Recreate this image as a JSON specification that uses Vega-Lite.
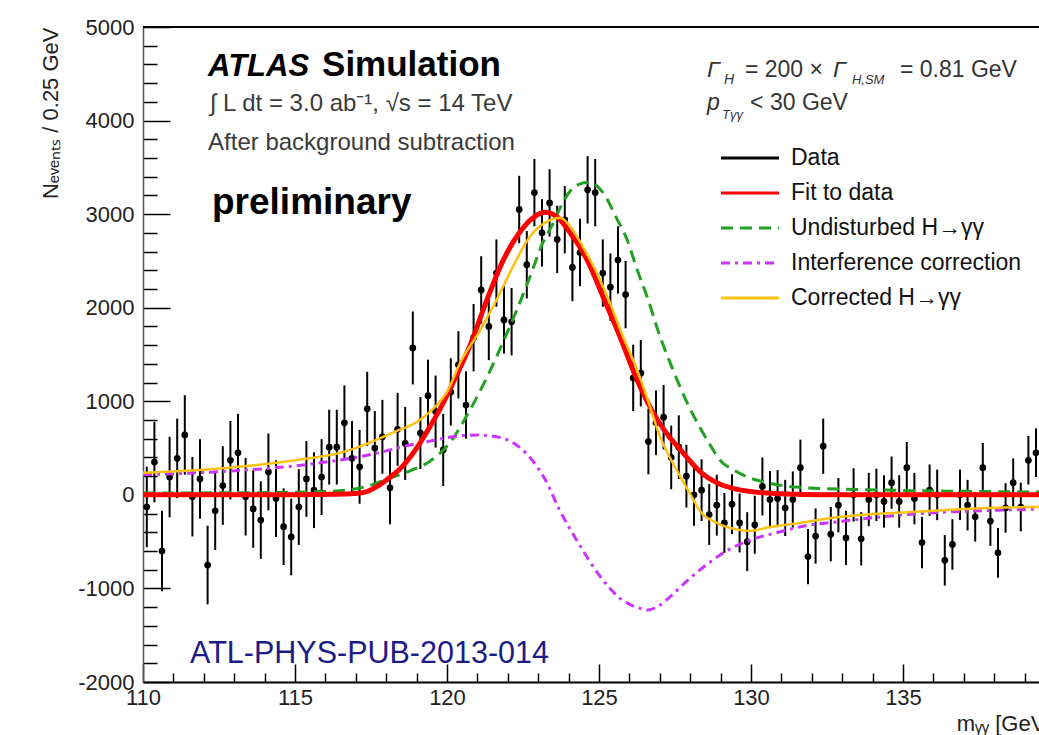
{
  "$schema": "https://vega.github.io/schema/vega-lite/v6.json",
  "width": 896,
  "height": 655,
  "autosize": {"type": "none"},
  "padding": {"left": 143, "top": 27, "right": 0, "bottom": 53},
  "background": "white",
  "datasets": {
    "points": [
      {"m": 110.125, "n": -130, "err": 430}, {"m": 110.375, "n": 350, "err": 430}, {"m": 110.625, "n": -600, "err": 430}, {"m": 110.875, "n": 190, "err": 430},
      {"m": 111.125, "n": 390, "err": 425}, {"m": 111.375, "n": 640, "err": 425}, {"m": 111.625, "n": -20, "err": 425}, {"m": 111.875, "n": 170, "err": 425},
      {"m": 112.125, "n": -750, "err": 420}, {"m": 112.375, "n": -170, "err": 420}, {"m": 112.625, "n": 100, "err": 420}, {"m": 112.875, "n": 370, "err": 420},
      {"m": 113.125, "n": 450, "err": 415}, {"m": 113.375, "n": -20, "err": 415}, {"m": 113.625, "n": -150, "err": 415}, {"m": 113.875, "n": -270, "err": 415},
      {"m": 114.125, "n": 245, "err": 410}, {"m": 114.375, "n": -40, "err": 410}, {"m": 114.625, "n": -340, "err": 410}, {"m": 114.875, "n": -450, "err": 410},
      {"m": 115.125, "n": -130, "err": 405}, {"m": 115.375, "n": 170, "err": 405}, {"m": 115.625, "n": 50, "err": 405}, {"m": 115.875, "n": 190, "err": 405},
      {"m": 116.125, "n": 510, "err": 400}, {"m": 116.375, "n": 510, "err": 400}, {"m": 116.625, "n": 770, "err": 400}, {"m": 116.875, "n": 390, "err": 400},
      {"m": 117.125, "n": 300, "err": 395}, {"m": 117.375, "n": 920, "err": 395}, {"m": 117.625, "n": 500, "err": 395}, {"m": 117.875, "n": 620, "err": 395},
      {"m": 118.125, "n": 75, "err": 390}, {"m": 118.375, "n": 700, "err": 390}, {"m": 118.625, "n": 550, "err": 390}, {"m": 118.875, "n": 1570, "err": 390},
      {"m": 119.125, "n": 660, "err": 385}, {"m": 119.375, "n": 1060, "err": 385}, {"m": 119.625, "n": 890, "err": 385}, {"m": 119.875, "n": 480, "err": 385},
      {"m": 120.125, "n": 1100, "err": 360}, {"m": 120.375, "n": 1390, "err": 360}, {"m": 120.625, "n": 960, "err": 360}, {"m": 120.875, "n": 1680, "err": 360},
      {"m": 121.125, "n": 2190, "err": 360}, {"m": 121.375, "n": 1800, "err": 360}, {"m": 121.625, "n": 2370, "err": 360}, {"m": 121.875, "n": 1870, "err": 360},
      {"m": 122.125, "n": 1850, "err": 360}, {"m": 122.375, "n": 3050, "err": 360}, {"m": 122.625, "n": 2460, "err": 360}, {"m": 122.875, "n": 3230, "err": 360},
      {"m": 123.125, "n": 2800, "err": 360}, {"m": 123.375, "n": 3120, "err": 360}, {"m": 123.625, "n": 2730, "err": 360}, {"m": 123.875, "n": 2940, "err": 360},
      {"m": 124.125, "n": 2430, "err": 360}, {"m": 124.375, "n": 2590, "err": 360}, {"m": 124.625, "n": 3260, "err": 360}, {"m": 124.875, "n": 3230, "err": 360},
      {"m": 125.125, "n": 2370, "err": 360}, {"m": 125.375, "n": 2220, "err": 360}, {"m": 125.625, "n": 2510, "err": 360}, {"m": 125.875, "n": 2140, "err": 360},
      {"m": 126.125, "n": 1250, "err": 355}, {"m": 126.375, "n": 1300, "err": 355}, {"m": 126.625, "n": 570, "err": 350}, {"m": 126.875, "n": 770, "err": 345},
      {"m": 127.125, "n": 830, "err": 345}, {"m": 127.375, "n": 400, "err": 340}, {"m": 127.625, "n": 510, "err": 340}, {"m": 127.875, "n": 200, "err": 335},
      {"m": 128.125, "n": 0, "err": 330}, {"m": 128.375, "n": 50, "err": 330}, {"m": 128.625, "n": -210, "err": 325}, {"m": 128.875, "n": -110, "err": 325},
      {"m": 129.125, "n": -300, "err": 320}, {"m": 129.375, "n": -100, "err": 320}, {"m": 129.625, "n": -300, "err": 315}, {"m": 129.875, "n": -500, "err": 315},
      {"m": 130.125, "n": -320, "err": 310}, {"m": 130.375, "n": 90, "err": 310}, {"m": 130.625, "n": -50, "err": 305}, {"m": 130.875, "n": -40, "err": 305},
      {"m": 131.125, "n": -140, "err": 300}, {"m": 131.375, "n": -50, "err": 300}, {"m": 131.625, "n": 290, "err": 300}, {"m": 131.875, "n": -660, "err": 295},
      {"m": 132.125, "n": -440, "err": 295}, {"m": 132.375, "n": 520, "err": 295}, {"m": 132.625, "n": -420, "err": 290}, {"m": 132.875, "n": -110, "err": 290},
      {"m": 133.125, "n": -460, "err": 290}, {"m": 133.375, "n": 0, "err": 285}, {"m": 133.625, "n": -470, "err": 285}, {"m": 133.875, "n": -50, "err": 285},
      {"m": 134.125, "n": 0, "err": 280}, {"m": 134.375, "n": -70, "err": 280}, {"m": 134.625, "n": 130, "err": 280}, {"m": 134.875, "n": -70, "err": 280},
      {"m": 135.125, "n": 290, "err": 275}, {"m": 135.375, "n": -40, "err": 275}, {"m": 135.625, "n": -510, "err": 275}, {"m": 135.875, "n": 50, "err": 275},
      {"m": 136.125, "n": 0, "err": 270}, {"m": 136.375, "n": -700, "err": 270}, {"m": 136.625, "n": -530, "err": 270}, {"m": 136.875, "n": 0, "err": 270},
      {"m": 137.125, "n": -110, "err": 270}, {"m": 137.375, "n": -235, "err": 265}, {"m": 137.625, "n": 290, "err": 265}, {"m": 137.875, "n": -280, "err": 265},
      {"m": 138.125, "n": -620, "err": 265}, {"m": 138.375, "n": -140, "err": 265}, {"m": 138.625, "n": 130, "err": 260}, {"m": 138.875, "n": -130, "err": 260},
      {"m": 139.125, "n": 370, "err": 260}, {"m": 139.375, "n": 450, "err": 260}
    ],
    "curves": [
      {"series": "Fit to data", "m": 110, "n": 0}, {"series": "Fit to data", "m": 114, "n": 0}, {"series": "Fit to data", "m": 116, "n": 5},
      {"series": "Fit to data", "m": 116.7, "n": 10}, {"series": "Fit to data", "m": 117.24, "n": 25}, {"series": "Fit to data", "m": 117.7, "n": 90},
      {"series": "Fit to data", "m": 118.13, "n": 190}, {"series": "Fit to data", "m": 118.55, "n": 310}, {"series": "Fit to data", "m": 119.0, "n": 500},
      {"series": "Fit to data", "m": 119.44, "n": 730}, {"series": "Fit to data", "m": 119.87, "n": 980}, {"series": "Fit to data", "m": 120.2, "n": 1200},
      {"series": "Fit to data", "m": 120.76, "n": 1600}, {"series": "Fit to data", "m": 121.32, "n": 2090}, {"series": "Fit to data", "m": 121.84, "n": 2500},
      {"series": "Fit to data", "m": 122.4, "n": 2810}, {"series": "Fit to data", "m": 122.83, "n": 2960}, {"series": "Fit to data", "m": 123.22, "n": 3020},
      {"series": "Fit to data", "m": 123.62, "n": 2970}, {"series": "Fit to data", "m": 124.05, "n": 2800}, {"series": "Fit to data", "m": 124.61, "n": 2510},
      {"series": "Fit to data", "m": 125.13, "n": 2120}, {"series": "Fit to data", "m": 125.69, "n": 1690}, {"series": "Fit to data", "m": 126.25, "n": 1230},
      {"series": "Fit to data", "m": 126.78, "n": 880}, {"series": "Fit to data", "m": 127.34, "n": 610}, {"series": "Fit to data", "m": 127.66, "n": 490},
      {"series": "Fit to data", "m": 128.0, "n": 360}, {"series": "Fit to data", "m": 128.32, "n": 250}, {"series": "Fit to data", "m": 128.88, "n": 130},
      {"series": "Fit to data", "m": 129.41, "n": 70}, {"series": "Fit to data", "m": 130.0, "n": 35}, {"series": "Fit to data", "m": 130.53, "n": 20},
      {"series": "Fit to data", "m": 131.6, "n": 5}, {"series": "Fit to data", "m": 133, "n": 0}, {"series": "Fit to data", "m": 140, "n": 0},

      {"series": "Undisturbed H→γγ", "m": 110, "n": 20}, {"series": "Undisturbed H→γγ", "m": 113, "n": 22}, {"series": "Undisturbed H→γγ", "m": 116, "n": 35},
      {"series": "Undisturbed H→γγ", "m": 117.24, "n": 80}, {"series": "Undisturbed H→γγ", "m": 118.13, "n": 180}, {"series": "Undisturbed H→γγ", "m": 118.8, "n": 260},
      {"series": "Undisturbed H→γγ", "m": 119.44, "n": 360}, {"series": "Undisturbed H→γγ", "m": 120.1, "n": 560}, {"series": "Undisturbed H→γγ", "m": 120.76, "n": 910},
      {"series": "Undisturbed H→γγ", "m": 121.32, "n": 1260}, {"series": "Undisturbed H→γγ", "m": 121.84, "n": 1630}, {"series": "Undisturbed H→γγ", "m": 122.3, "n": 1980},
      {"series": "Undisturbed H→γγ", "m": 122.73, "n": 2330}, {"series": "Undisturbed H→γγ", "m": 123.16, "n": 2700}, {"series": "Undisturbed H→γγ", "m": 123.49, "n": 2900},
      {"series": "Undisturbed H→γγ", "m": 123.82, "n": 3130}, {"series": "Undisturbed H→γγ", "m": 124.28, "n": 3310}, {"series": "Undisturbed H→γγ", "m": 124.7, "n": 3340},
      {"series": "Undisturbed H→γγ", "m": 125.13, "n": 3230}, {"series": "Undisturbed H→γγ", "m": 125.59, "n": 2950}, {"series": "Undisturbed H→γγ", "m": 125.92, "n": 2730},
      {"series": "Undisturbed H→γγ", "m": 126.25, "n": 2410}, {"series": "Undisturbed H→γγ", "m": 126.58, "n": 2120}, {"series": "Undisturbed H→γγ", "m": 127.01, "n": 1690},
      {"series": "Undisturbed H→γγ", "m": 127.43, "n": 1340}, {"series": "Undisturbed H→γγ", "m": 127.89, "n": 990}, {"series": "Undisturbed H→γγ", "m": 128.32, "n": 720},
      {"series": "Undisturbed H→γγ", "m": 128.7, "n": 510}, {"series": "Undisturbed H→γγ", "m": 128.98, "n": 370}, {"series": "Undisturbed H→γγ", "m": 129.41, "n": 270},
      {"series": "Undisturbed H→γγ", "m": 129.97, "n": 180}, {"series": "Undisturbed H→γγ", "m": 130.53, "n": 130}, {"series": "Undisturbed H→γγ", "m": 131.6, "n": 80},
      {"series": "Undisturbed H→γγ", "m": 133.8, "n": 55}, {"series": "Undisturbed H→γγ", "m": 140, "n": 30},

      {"series": "Interference correction", "m": 110, "n": 215}, {"series": "Interference correction", "m": 112, "n": 240}, {"series": "Interference correction", "m": 114, "n": 280},
      {"series": "Interference correction", "m": 115, "n": 310}, {"series": "Interference correction", "m": 116, "n": 350}, {"series": "Interference correction", "m": 117, "n": 400},
      {"series": "Interference correction", "m": 118, "n": 470}, {"series": "Interference correction", "m": 118.6, "n": 520}, {"series": "Interference correction", "m": 119.3, "n": 565},
      {"series": "Interference correction", "m": 120.2, "n": 620}, {"series": "Interference correction", "m": 121.0, "n": 640}, {"series": "Interference correction", "m": 121.64, "n": 620},
      {"series": "Interference correction", "m": 122.3, "n": 530}, {"series": "Interference correction", "m": 122.9, "n": 330}, {"series": "Interference correction", "m": 123.22, "n": 170},
      {"series": "Interference correction", "m": 123.7, "n": -160}, {"series": "Interference correction", "m": 124.36, "n": -535}, {"series": "Interference correction", "m": 125.0, "n": -855},
      {"series": "Interference correction", "m": 125.67, "n": -1100}, {"series": "Interference correction", "m": 126.32, "n": -1210}, {"series": "Interference correction", "m": 126.6, "n": -1230},
      {"series": "Interference correction", "m": 126.9, "n": -1200}, {"series": "Interference correction", "m": 127.3, "n": -1100}, {"series": "Interference correction", "m": 127.96, "n": -900},
      {"series": "Interference correction", "m": 128.65, "n": -720}, {"series": "Interference correction", "m": 129.3, "n": -580}, {"series": "Interference correction", "m": 130.0, "n": -480},
      {"series": "Interference correction", "m": 130.9, "n": -400}, {"series": "Interference correction", "m": 131.8, "n": -330}, {"series": "Interference correction", "m": 132.8, "n": -290},
      {"series": "Interference correction", "m": 134.3, "n": -235}, {"series": "Interference correction", "m": 135.8, "n": -195}, {"series": "Interference correction", "m": 137.5, "n": -170},
      {"series": "Interference correction", "m": 140, "n": -150},

      {"series": "Corrected H→γγ", "m": 110, "n": 235}, {"series": "Corrected H→γγ", "m": 112.8, "n": 290}, {"series": "Corrected H→γγ", "m": 115.0, "n": 370},
      {"series": "Corrected H→γγ", "m": 116.6, "n": 460}, {"series": "Corrected H→γγ", "m": 118.25, "n": 670}, {"series": "Corrected H→γγ", "m": 119.1, "n": 800},
      {"series": "Corrected H→γγ", "m": 119.77, "n": 1000}, {"series": "Corrected H→γγ", "m": 120.0, "n": 1100}, {"series": "Corrected H→γγ", "m": 120.43, "n": 1410},
      {"series": "Corrected H→γγ", "m": 121.09, "n": 1760}, {"series": "Corrected H→γγ", "m": 121.64, "n": 2090}, {"series": "Corrected H→γγ", "m": 122.17, "n": 2440},
      {"series": "Corrected H→γγ", "m": 122.73, "n": 2760}, {"series": "Corrected H→γγ", "m": 123.29, "n": 2920}, {"series": "Corrected H→γγ", "m": 123.72, "n": 2960},
      {"series": "Corrected H→γγ", "m": 124.05, "n": 2870}, {"series": "Corrected H→γγ", "m": 124.47, "n": 2650}, {"series": "Corrected H→γγ", "m": 124.93, "n": 2370},
      {"series": "Corrected H→γγ", "m": 125.36, "n": 2050}, {"series": "Corrected H→γγ", "m": 125.79, "n": 1690}, {"series": "Corrected H→γγ", "m": 126.25, "n": 1340},
      {"series": "Corrected H→γγ", "m": 126.68, "n": 940}, {"series": "Corrected H→γγ", "m": 127.01, "n": 620}, {"series": "Corrected H→γγ", "m": 127.24, "n": 460},
      {"series": "Corrected H→γγ", "m": 127.7, "n": 180}, {"series": "Corrected H→γγ", "m": 128.0, "n": 10}, {"series": "Corrected H→γγ", "m": 128.32, "n": -170},
      {"series": "Corrected H→γγ", "m": 128.88, "n": -300}, {"series": "Corrected H→γγ", "m": 129.41, "n": -360}, {"series": "Corrected H→γγ", "m": 129.97, "n": -385},
      {"series": "Corrected H→γγ", "m": 130.53, "n": -350}, {"series": "Corrected H→γγ", "m": 131.6, "n": -300}, {"series": "Corrected H→γγ", "m": 132.7, "n": -245},
      {"series": "Corrected H→γγ", "m": 133.8, "n": -210}, {"series": "Corrected H→γγ", "m": 134.9, "n": -190}, {"series": "Corrected H→γγ", "m": 136.0, "n": -170},
      {"series": "Corrected H→γγ", "m": 137.1, "n": -150}, {"series": "Corrected H→γγ", "m": 140, "n": -125}
    ],
    "notes": [
      {"note": "ATLAS", "m": 112.14, "n": 4481},
      {"note": "Simulation", "m": 115.89, "n": 4481},
      {"note": "∫ L dt = 3.0 ab⁻¹,   √s = 14 TeV", "m": 112.2, "n": 4107},
      {"note": "After background subtraction", "m": 112.14, "n": 3690},
      {"note": "preliminary", "m": 112.27, "n": 3005},
      {"note": "ATL-PHYS-PUB-2013-014", "m": 111.55, "n": -1797},
      {"note": "Γ", "m": 128.55, "n": 4470},
      {"note": "H", "m": 129.11, "n": 4396},
      {"note": "= 200 ×", "m": 129.8, "n": 4470},
      {"note": "Γ", "m": 132.7, "n": 4470},
      {"note": "H,SM", "m": 133.32, "n": 4396},
      {"note": "= 0.81 GeV", "m": 134.9, "n": 4470},
      {"note": "p", "m": 128.55, "n": 4118},
      {"note": "Tγγ", "m": 129.05, "n": 4021},
      {"note": "< 30 GeV", "m": 129.97, "n": 4118}
    ],
    "frame": [{"m": 110, "n": 5000}, {"m": 139.474, "n": 5000}]
  },
  "encoding": {
    "x": {
      "field": "m", "type": "quantitative", "title": "mᵧᵧ [GeV]",
      "scale": {"domain": [110, 139.474], "nice": false, "zero": false},
      "axis": {
        "values": [110,111,112,113,114,115,116,117,118,119,120,121,122,123,124,125,126,127,128,129,130,131,132,133,134,135,136,137,138,139,140],
        "labelExpr": "datum.value % 5 === 0 ? '' + datum.value : ''",
        "tickSize": {"condition": {"test": "datum.value % 5 === 0", "value": -18}, "value": -9},
        "tickColor": "black", "tickWidth": 1.5,
        "domainColor": "black", "domainWidth": 2,
        "labelPadding": 23, "labelFontSize": 22, "labelFont": "Liberation Sans", "labelColor": "#222",
        "labelFlush": false, "labelOverlap": false, "grid": false,
        "titleX": 908, "titleY": 48, "titleAlign": "right", "titleAnchor": "end", "titleBaseline": "alphabetic",
        "titleFontSize": 22, "titleFontWeight": "normal", "titleFont": "Liberation Sans", "titleColor": "#222"
      }
    },
    "y": {
      "field": "n", "type": "quantitative", "title": "Nₑᵥₑₙₜₛ / 0.25 GeV",
      "scale": {"domain": [-2000, 5000], "nice": false, "zero": false},
      "axis": {
        "values": [-2000,-1800,-1600,-1400,-1200,-1000,-800,-600,-400,-200,0,200,400,600,800,1000,1200,1400,1600,1800,2000,2200,2400,2600,2800,3000,3200,3400,3600,3800,4000,4200,4400,4600,4800,5000],
        "labelExpr": "datum.value % 1000 === 0 ? '' + datum.value : ''",
        "tickSize": {"condition": {"test": "datum.value % 1000 === 0", "value": -27}, "value": -14},
        "tickColor": "black", "tickWidth": 1.5,
        "domainColor": "#555", "domainWidth": 1.5,
        "labelPadding": 36, "labelFontSize": 22, "labelFont": "Liberation Sans", "labelColor": "#222",
        "labelOverlap": false, "grid": false,
        "titleX": -93, "titleY": 0, "titleAngle": 270, "titleAlign": "right", "titleAnchor": "end", "titleBaseline": "middle",
        "titleFontSize": 22, "titleFontWeight": "normal", "titleFont": "Liberation Sans", "titleColor": "#222"
      }
    }
  },
  "layer": [
    {
      "data": {"name": "points"},
      "mark": {"type": "errorbar", "color": "black", "thickness": 2, "clip": true},
      "encoding": {"yError": {"field": "err"}}
    },
    {
      "data": {"name": "points"},
      "mark": {"type": "point", "filled": true, "size": 45, "color": "black", "opacity": 1, "clip": true}
    },
    {
      "data": {"name": "curves"},
      "transform": [{"filter": "datum.series === 'Undisturbed H→γγ'"}],
      "mark": {"type": "line", "clip": true, "interpolate": "monotone", "strokeWidth": 3},
      "encoding": {
        "color": {"field": "series", "type": "nominal", "legend": {"title": null},
          "scale": {"domain": ["Data", "Fit to data", "Undisturbed H→γγ", "Interference correction", "Corrected H→γγ"], "range": ["#000000", "#ff0000", "#22a022", "#cc33ff", "#ffc010"]}},
        "strokeDash": {"field": "series", "type": "nominal", "legend": {"title": null},
          "scale": {"domain": ["Data", "Fit to data", "Undisturbed H→γγ", "Interference correction", "Corrected H→γγ"], "range": [[1, 0], [1, 0], [12, 7], [9, 5, 3, 5], [1, 0]]}}
      }
    },
    {
      "data": {"name": "curves"},
      "transform": [{"filter": "datum.series === 'Interference correction'"}],
      "mark": {"type": "line", "clip": true, "interpolate": "monotone", "strokeWidth": 3},
      "encoding": {
        "color": {"field": "series", "type": "nominal", "legend": {"title": null}},
        "strokeDash": {"field": "series", "type": "nominal", "legend": {"title": null}}
      }
    },
    {
      "data": {"name": "curves"},
      "transform": [{"filter": "datum.series === 'Fit to data'"}],
      "mark": {"type": "line", "clip": true, "interpolate": "monotone", "strokeWidth": 5},
      "encoding": {
        "color": {"field": "series", "type": "nominal", "legend": {"title": null}},
        "strokeDash": {"field": "series", "type": "nominal", "legend": {"title": null}}
      }
    },
    {
      "data": {"name": "curves"},
      "transform": [{"filter": "datum.series === 'Corrected H→γγ'"}],
      "mark": {"type": "line", "clip": true, "interpolate": "monotone", "strokeWidth": 2.5},
      "encoding": {
        "color": {"field": "series", "type": "nominal", "legend": {"title": null}},
        "strokeDash": {"field": "series", "type": "nominal", "legend": {"title": null}}
      }
    },
    {
      "data": {"name": "frame"},
      "mark": {"type": "line", "color": "black", "strokeWidth": 2}
    },
    {
      "data": {"name": "notes"},
      "transform": [{"filter": "datum.note === 'ATLAS'"}],
      "mark": {"type": "text", "font": "Liberation Sans", "fontSize": 31, "fontWeight": "bold", "fontStyle": "italic", "align": "left", "baseline": "alphabetic", "color": "black"},
      "encoding": {"text": {"field": "note"}}
    },
    {
      "data": {"name": "notes"},
      "transform": [{"filter": "datum.note === 'Simulation'"}],
      "mark": {"type": "text", "font": "Liberation Sans", "fontSize": 35, "fontWeight": "bold", "align": "left", "baseline": "alphabetic", "color": "black"},
      "encoding": {"text": {"field": "note"}}
    },
    {
      "data": {"name": "notes"},
      "transform": [{"filter": "datum.note === 'preliminary'"}],
      "mark": {"type": "text", "font": "Liberation Sans", "fontSize": 37, "fontWeight": "bold", "align": "left", "baseline": "alphabetic", "color": "black"},
      "encoding": {"text": {"field": "note"}}
    },
    {
      "data": {"name": "notes"},
      "transform": [{"filter": "indexof(datum.note, 'dt') >= 0 || indexof(datum.note, 'After') === 0"}],
      "mark": {"type": "text", "font": "Liberation Sans", "fontSize": 24, "align": "left", "baseline": "alphabetic", "color": "#3a3a3a"},
      "encoding": {"text": {"field": "note"}}
    },
    {
      "data": {"name": "notes"},
      "transform": [{"filter": "datum.note === 'ATL-PHYS-PUB-2013-014'"}],
      "mark": {"type": "text", "font": "Liberation Sans", "fontSize": 30.5, "align": "left", "baseline": "alphabetic", "color": "#1c1c86"},
      "encoding": {"text": {"field": "note"}}
    },
    {
      "data": {"name": "notes"},
      "transform": [{"filter": "datum.note === 'Γ' || datum.note === 'p'"}],
      "mark": {"type": "text", "font": "Liberation Sans", "fontSize": 23, "fontStyle": "italic", "align": "left", "baseline": "alphabetic", "color": "#333"},
      "encoding": {"text": {"field": "note"}}
    },
    {
      "data": {"name": "notes"},
      "transform": [{"filter": "datum.note === '= 200 ×' || datum.note === '= 0.81 GeV' || datum.note === '< 30 GeV'"}],
      "mark": {"type": "text", "font": "Liberation Sans", "fontSize": 23, "align": "left", "baseline": "alphabetic", "color": "#333"},
      "encoding": {"text": {"field": "note"}}
    },
    {
      "data": {"name": "notes"},
      "transform": [{"filter": "datum.note === 'H'"}],
      "mark": {"type": "text", "font": "Liberation Sans", "fontSize": 14, "fontStyle": "italic", "align": "left", "baseline": "alphabetic", "color": "#333"},
      "encoding": {"text": {"field": "note"}}
    },
    {
      "data": {"name": "notes"},
      "transform": [{"filter": "datum.note === 'H,SM' || datum.note === 'Tγγ'"}],
      "mark": {"type": "text", "font": "Liberation Sans", "fontSize": 13, "fontStyle": "italic", "align": "left", "baseline": "alphabetic", "color": "#333"},
      "encoding": {"text": {"field": "note"}}
    }
  ],
  "config": {
    "view": {"stroke": null},
    "font": "Liberation Sans",
    "legend": {
      "orient": "none", "legendX": 591, "legendY": 115,
      "symbolType": "M-2,0H2", "symbolSize": 841, "symbolStrokeWidth": 3,
      "labelFontSize": 23, "labelFont": "Liberation Sans", "labelColor": "#111", "labelLimit": 400,
      "labelOffset": 25, "rowPadding": 7, "padding": 0
    }
  }
}
